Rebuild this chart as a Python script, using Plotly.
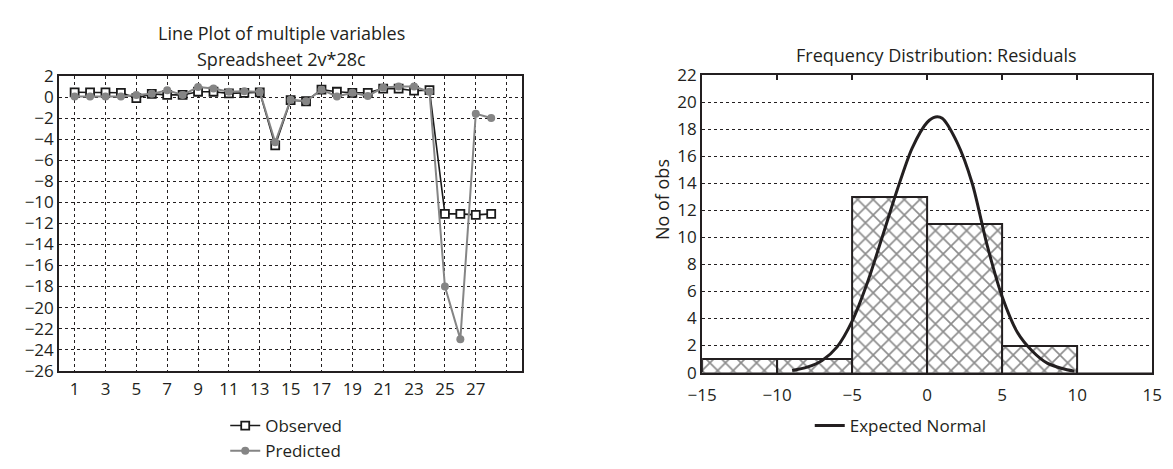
import plotly.graph_objects as go

# ---------------- data ----------------
case_no = list(range(1, 29))
observed = [0.45, 0.45, 0.45, 0.4, -0.1, 0.3, 0.2, 0.2, 0.5, 0.5, 0.35, 0.4, 0.45, -4.6,
            -0.3, -0.4, 0.7, 0.5, 0.4, 0.4, 0.8, 0.8, 0.6, 0.65, -11.1, -11.1, -11.2, -11.1]
predicted = [0.05, 0.05, 0.05, 0.05, 0.2, 0.3, 0.65, 0.2, 0.95, 0.8, 0.5, 0.55, 0.5, -4.3,
             -0.25, -0.4, 0.7, 0.05, 0.4, 0.1, 0.9, 1.0, 1.0, 0.5, -18.0, -23.0, -1.6, -2.0]

x_tick_vals = [1, 3, 5, 7, 9, 11, 13, 15, 17, 19, 21, 23, 25, 27, 29]
x_tick_text = ["1", "3", "5", "7", "9", "11", "13", "15", "17", "19", "21", "23", "25", "27", ""]
y_tick_vals_left = [2, 0, -2, -4, -6, -8, -10, -12, -14, -16, -18, -20, -22, -24, -26]

bin_centers = [-12.5, -7.5, -2.5, 2.5, 7.5, 12.5]
bin_counts = [1, 1, 13, 11, 2, 0]

normal_x = [-9.0, -8.0, -7.0, -6.0, -5.0, -4.0, -3.0, -2.0, -1.0, 0.0, 0.55, 1.0,
            2.0, 3.0, 4.0, 5.0, 6.0, 7.0, 8.0, 9.0, 9.8]
normal_y = [0.15, 0.4, 0.9, 1.9, 3.8, 6.6, 10.0, 13.5, 16.6, 18.5, 18.9, 18.8,
            17.0, 14.0, 9.4, 5.6, 3.0, 1.6, 0.7, 0.3, 0.1]

x_tick_vals_right = [-15, -10, -5, 0, 5, 10, 15]
y_tick_vals_right = [0, 2, 4, 6, 8, 10, 12, 14, 16, 18, 20, 22]

# ---------------- figure ----------------
OFF = 8                     # default page body margin
W, H = 1173 - OFF, 469 - OFF
FONT = "Open Sans"
FS = 18
TFS = 17
TXT = "#231f20"

def px_x(p):
    return (p - OFF) / W

def px_y(p):
    return 1 - (p - OFF) / H

fig = go.Figure()

fig.add_trace(go.Scatter(
    x=case_no, y=observed, name="Observed", mode="lines+markers",
    line=dict(color="#1a1a1a", width=1.6),
    marker=dict(symbol="square", size=8, color="white", line=dict(color="#1a1a1a", width=1.8)),
    xaxis="x", yaxis="y", legend="legend"))
fig.add_trace(go.Scatter(
    x=case_no, y=predicted, name="Predicted", mode="lines+markers",
    line=dict(color="#858585", width=2),
    marker=dict(symbol="circle", size=8, color="#858585"),
    xaxis="x", yaxis="y", legend="legend"))

fig.add_trace(go.Bar(
    x=bin_centers, y=bin_counts, width=5, showlegend=False,
    marker=dict(color="white", line=dict(color="#231f20", width=2),
                pattern=dict(shape="x", size=11, solidity=0.28, fgcolor="#1a1a1a", bgcolor="white")),
    xaxis="x2", yaxis="y2"))
fig.add_trace(go.Scatter(
    x=normal_x, y=normal_y, name="Expected Normal", mode="lines",
    line=dict(color="#231f20", width=3, shape="spline", smoothing=0.8),
    xaxis="x2", yaxis="y2", legend="legend2"))

axis_common = dict(showline=True, linecolor="#231f20", linewidth=2, mirror=True,
                   tickfont=dict(family=FONT, size=TFS, color=TXT), zeroline=False)

fig.update_layout(
    width=W, height=H,
    margin=dict(l=0, r=0, t=0, b=0),
    paper_bgcolor="white", plot_bgcolor="white",
    font=dict(family=FONT, size=FS, color=TXT),
    bargap=0,
    xaxis=dict(domain=[px_x(45), px_x(518)], range=[0, 30], tickmode="array",
               tickvals=x_tick_vals, ticktext=x_tick_text, showgrid=True,
               gridcolor="#231f20", griddash="dot", gridwidth=1, ticks="",
               ticklabelstandoff=2, **axis_common),
    yaxis=dict(domain=[px_y(384), px_y(68)], range=[-26, 2], tickmode="array",
               tickvals=y_tick_vals_left, showgrid=True, gridcolor="#231f20",
               griddash="dot", gridwidth=1, ticks="", **axis_common),
    xaxis2=dict(domain=[px_x(702), px_x(1162)], range=[-15, 15], tickmode="array",
                tickvals=x_tick_vals_right, showgrid=False, ticks="inside", ticklen=5,
                tickcolor="#231f20", tickwidth=1.5, anchor="y2", ticklabelstandoff=6,
                **{**axis_common, "mirror": "allticks"}),
    yaxis2=dict(domain=[px_y(386), px_y(67)], range=[0, 22], tickmode="array",
                tickvals=y_tick_vals_right, showgrid=True, gridcolor="#231f20",
                griddash="dot", gridwidth=1, ticks="", anchor="x2", **axis_common),
    legend=dict(x=px_x(277), y=px_y(424), xanchor="center", yanchor="top",
                orientation="v", itemwidth=30, tracegroupgap=0,
                font=dict(family=FONT, size=TFS, color=TXT), bgcolor="rgba(0,0,0,0)"),
    legend2=dict(x=px_x(905), y=px_y(424), xanchor="center", yanchor="top",
                 orientation="h", itemwidth=30,
                 font=dict(family=FONT, size=TFS, color=TXT), bgcolor="rgba(0,0,0,0)"),
    annotations=[
        dict(text="Line Plot of multiple variables", x=px_x(272), y=px_y(22), xref="paper",
             yref="paper", showarrow=False, xanchor="center", yanchor="middle",
             font=dict(family=FONT, size=FS, color=TXT)),
        dict(text="Spreadsheet 2v*28c", x=px_x(272), y=px_y(50), xref="paper",
             yref="paper", showarrow=False, xanchor="center", yanchor="middle",
             font=dict(family=FONT, size=FS, color=TXT)),
        dict(text="Frequency Distribution: Residuals", x=px_x(942), y=px_y(45), xref="paper",
             yref="paper", showarrow=False, xanchor="center", yanchor="middle",
             font=dict(family=FONT, size=FS, color=TXT)),
        dict(text="No of obs", x=px_x(661), y=px_y(200), xref="paper", yref="paper",
             showarrow=False, textangle=-90, xanchor="center", yanchor="middle",
             font=dict(family=FONT, size=FS, color=TXT)),
    ],
)

fig.write_html("out.html")
